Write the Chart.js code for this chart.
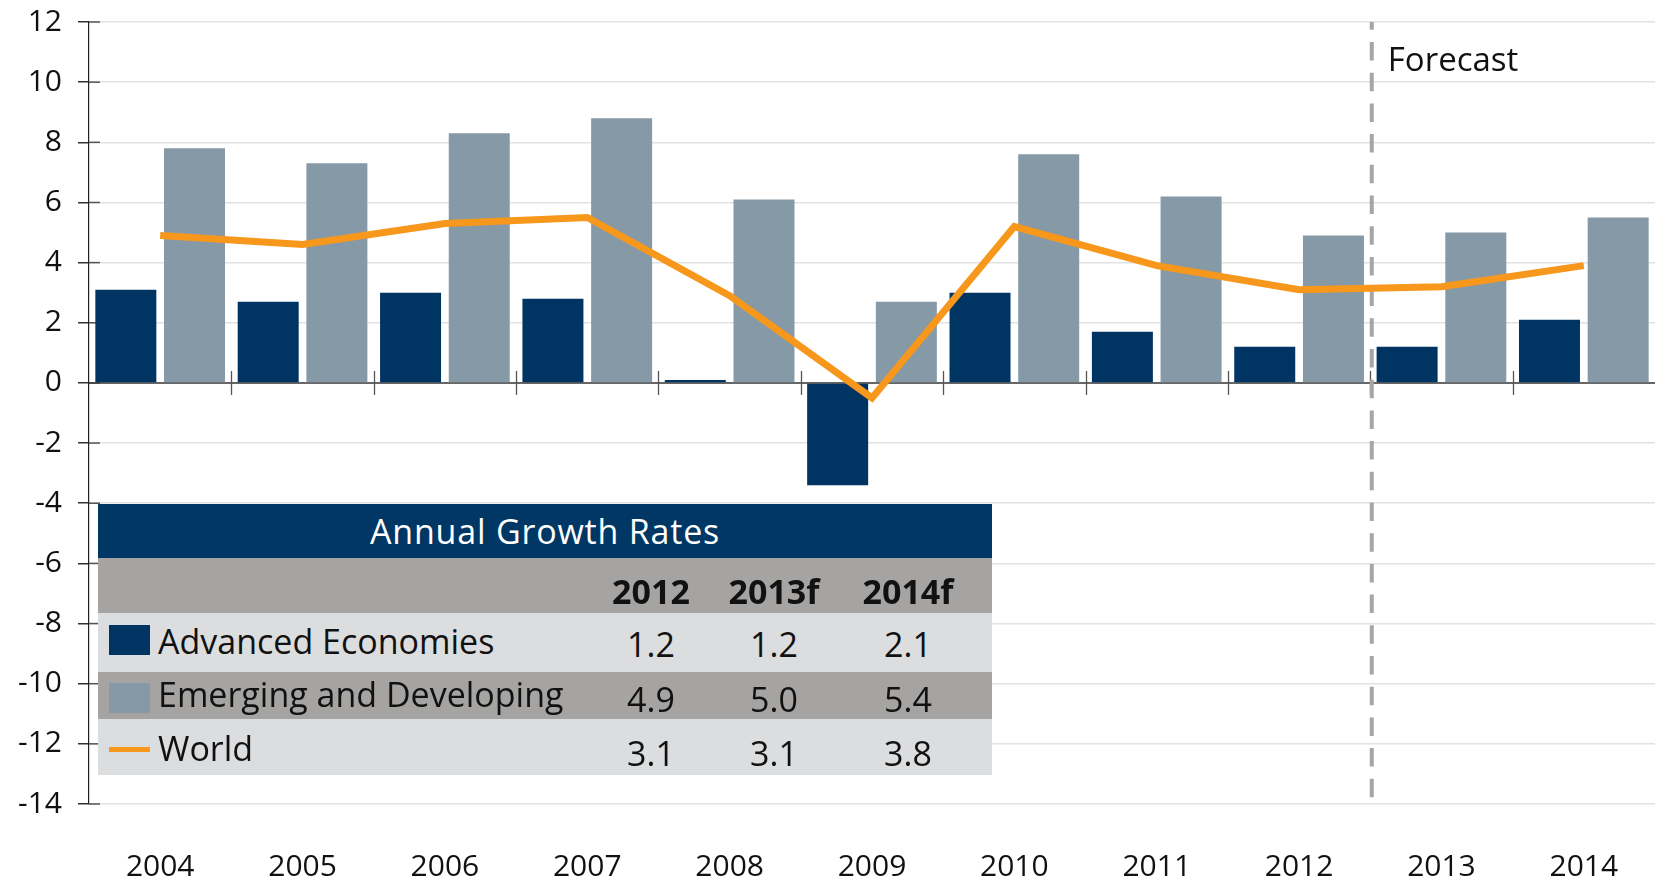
<!DOCTYPE html>
<html>
<head>
<meta charset="utf-8">
<script src="https://cdn.jsdelivr.net/npm/chart.js@4.4.1/dist/chart.umd.min.js"></script>
<style>
  html, body { margin: 0; padding: 0; background: #ffffff; }
  #wrap { position: relative; width: 1655px; height: 882px; overflow: hidden; font-family: "Open Sans", "Noto Sans", sans-serif; }
  #chart { position: absolute; left: 0; top: 0; }
  #tbl { position: absolute; left: 98px; top: 504px; width: 894px; height: 271px; }
  #tbl .row { position: absolute; left: 0; width: 894px; }
  #tbl .txt { position: absolute; font-size: 34px; line-height: 34px; color: #111; white-space: nowrap; }
  #tbl .val { width: 140px; text-align: center; }
  #tbl .sw { position: absolute; left: 11px; width: 41px; }
</style>
</head>
<body>
<div id="wrap">
  <canvas id="chart" width="1655" height="882"></canvas>
  <div id="tbl"></div>
</div>
<script>
// ---------- DATA ----------
const categories = ['2004','2005','2006','2007','2008','2009','2010','2011','2012','2013','2014'];
const advancedEconomies = [3.1, 2.7, 3.0, 2.8, 0.1, -3.4, 3.0, 1.7, 1.2, 1.2, 2.1];
const emergingDeveloping = [7.8, 7.3, 8.3, 8.8, 6.1, 2.7, 7.6, 6.2, 4.9, 5.0, 5.5];
const worldGrowth = [4.9, 4.6, 5.3, 5.5, 2.9, -0.5, 5.2, 3.9, 3.1, 3.2, 3.9];
const seriesNames = ['Advanced Economies', 'Emerging and Developing', 'World'];
const yMin = -14, yMax = 12, yStep = 2;
const forecastLabel = 'Forecast';
const lastActualIndex = 8; // forecast begins after 2012

const tableTitle = 'Annual Growth Rates';
const tableYears = ['2012', '2013f', '2014f'];
const tableAdvanced = ['1.2', '1.2', '2.1'];
const tableEmerging = ['4.9', '5.0', '5.4'];
const tableWorld = ['3.1', '3.1', '3.8'];

// ---------- STYLE ----------
const COL_DARK = '#003462';
const COL_GREY = '#8599a6';
const COL_ORANGE = '#f7971b';
const FONT = '"Open Sans", "Noto Sans", sans-serif';

// ---------- PLUGIN: zero line, category ticks, inner y ticks, forecast divider ----------
const decor = {
  id: 'decor',
  beforeDatasetsDraw(chart) {
    const {ctx, chartArea: a, scales: {x, y}} = chart;
    ctx.save();
    // inner halves of y ticks
    ctx.strokeStyle = '#555';
    ctx.lineWidth = 1.5;
    for (let v = yMin; v <= yMax; v += yStep) {
      const py = y.getPixelForValue(v);
      ctx.beginPath(); ctx.moveTo(a.left, py); ctx.lineTo(a.left + 11, py); ctx.stroke();
    }
    // zero line
    const y0 = y.getPixelForValue(0);
    ctx.strokeStyle = '#3a3a3a';
    ctx.lineWidth = 1.5;
    ctx.beginPath(); ctx.moveTo(a.left, y0); ctx.lineTo(a.right, y0); ctx.stroke();
    // category separators on the zero line
    ctx.strokeStyle = '#555';
    ctx.lineWidth = 1.3;
    for (let i = 1; i < categories.length; i++) {
      const px = Math.round((x.getPixelForValue(i - 1) + x.getPixelForValue(i)) / 2) + 0.5;
      ctx.beginPath(); ctx.moveTo(px, y0 - 12); ctx.lineTo(px, y0 + 12); ctx.stroke();
    }
    // forecast divider
    const fx = (x.getPixelForValue(lastActualIndex) + x.getPixelForValue(lastActualIndex + 1)) / 2 + 1.5;
    ctx.strokeStyle = '#a6a6a6';
    ctx.lineWidth = 4;
    ctx.setLineDash([18.5, 12.2]);
    ctx.lineDashOffset = 10.7;
    ctx.beginPath(); ctx.moveTo(fx, a.top); ctx.lineTo(fx, a.bottom); ctx.stroke();
    ctx.setLineDash([]);
    // forecast label
    ctx.fillStyle = '#111';
    ctx.font = '33px ' + FONT;
    ctx.textAlign = 'left';
    ctx.textBaseline = 'alphabetic';
    ctx.fillText(forecastLabel, fx + 16, 71);
    ctx.restore();
  }
};

new Chart(document.getElementById('chart'), {
  data: {
    labels: categories,
    datasets: [
      { type: 'line', label: seriesNames[2], data: worldGrowth, borderColor: COL_ORANGE, backgroundColor: COL_ORANGE,
        borderWidth: 7, pointRadius: 0, tension: 0, order: 0, borderJoinStyle: 'miter', borderCapStyle: 'butt' },
      { type: 'bar', label: seriesNames[0], data: advancedEconomies, backgroundColor: COL_DARK,
        categoryPercentage: 0.965, barPercentage: 0.888, order: 1 },
      { type: 'bar', label: seriesNames[1], data: emergingDeveloping, backgroundColor: COL_GREY,
        categoryPercentage: 0.965, barPercentage: 0.888, order: 1 }
    ]
  },
  options: {
    responsive: false,
    animation: false,
    layout: { padding: { top: 22, left: 0, right: 0, bottom: 0 } },
    plugins: { legend: { display: false }, tooltip: { enabled: false } },
    scales: {
      x: {
        grid: { display: false },
        border: { display: false },
        ticks: { color: '#111', font: { family: FONT, size: 30 }, padding: 37, maxRotation: 0 },
        afterFit(s) { s.height = 78; s.paddingLeft = 0; s.paddingRight = 0; }
      },
      y: {
        min: yMin, max: yMax,
        ticks: { stepSize: yStep, color: '#111', font: { family: FONT, size: 30 }, padding: 16 },
        grid: { color: '#e2e2e2', lineWidth: 1.5, tickColor: '#333', tickLength: 11, tickWidth: 1.5 },
        border: { color: '#222', width: 1.2 },
        afterFit(s) { s.width = 89; s.paddingTop = 0; s.paddingBottom = 0; }
      }
    }
  },
  plugins: [decor]
});

// ---------- TABLE / LEGEND (HTML text) ----------
(function buildTable() {
  const tbl = document.getElementById('tbl');
  const rows = [
    { h: 54, bg: '#003764' },
    { h: 55, bg: '#a5a4a2' },
    { h: 59, bg: '#dcdddf' },
    { h: 47, bg: '#a5a4a2' },
    { h: 56, bg: '#dcdddf' }
  ];
  const colCenters = [553, 676, 810];
  let top = 0;
  const rowEls = rows.map(r => {
    const d = document.createElement('div');
    d.className = 'row';
    d.style.top = top + 'px';
    d.style.height = r.h + 'px';
    d.style.background = r.bg;
    tbl.appendChild(d);
    top += r.h;
    return d;
  });
  function text(row, str, left, topPx, extra) {
    const s = document.createElement('span');
    s.className = 'txt' + (extra && extra.cls ? ' ' + extra.cls : '');
    s.textContent = str;
    s.style.left = left + 'px';
    s.style.top = topPx + 'px';
    if (extra && extra.style) Object.assign(s.style, extra.style);
    row.appendChild(s);
    return s;
  }
  // title
  text(rowEls[0], tableTitle, 0, 9.8, { style: { width: '894px', textAlign: 'center', color: '#ffffff', letterSpacing: '0.8px' } });
  // years
  tableYears.forEach((yr, i) => text(rowEls[1], yr, colCenters[i] - 70, 15.8, { cls: 'val', style: { fontWeight: '700' } }));
  // swatches
  function swatch(row, color, t, h) {
    const s = document.createElement('div');
    s.className = 'sw';
    s.style.top = t + 'px'; s.style.height = h + 'px'; s.style.background = color;
    row.appendChild(s);
  }
  swatch(rowEls[2], COL_DARK, 12, 30);
  swatch(rowEls[3], COL_GREY, 11, 30);
  swatch(rowEls[4], COL_ORANGE, 28, 5);
  const bodyRows = [
    { row: rowEls[2], name: seriesNames[0], vals: tableAdvanced, lt: 10.8, vt: 13.8 },
    { row: rowEls[3], name: seriesNames[1], vals: tableEmerging, lt: 4.8, vt: 9.5 },
    { row: rowEls[4], name: seriesNames[2], vals: tableWorld, lt: 11.5, vt: 16.8 }
  ];
  bodyRows.forEach(b => {
    text(b.row, b.name, 60, b.lt);
    b.vals.forEach((v, i) => text(b.row, v, colCenters[i] - 70, b.vt, { cls: 'val' }));
  });
})();
</script>
</body>
</html>
